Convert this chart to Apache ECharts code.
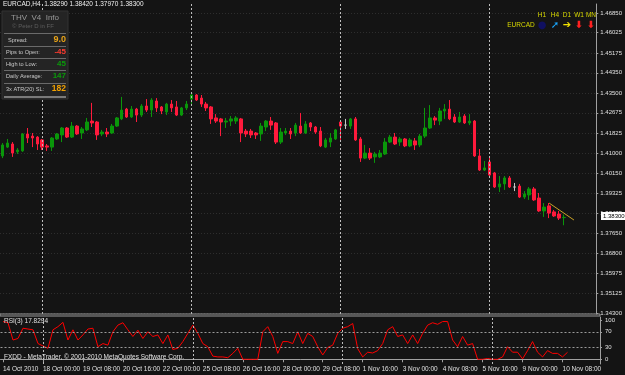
<!DOCTYPE html>
<html><head><meta charset="utf-8">
<script src="https://cdn.jsdelivr.net/npm/echarts@6/dist/echarts.min.js"></script>
<style>html,body{margin:0;padding:0;background:#141414;}#c{width:625px;height:375px;}</style>
</head><body><div id="c"></div>
<script>
// ---- data (EURCAD, H4) ----
const xTickLabels = ['14 Oct 2010','18 Oct 00:00','19 Oct 08:00','20 Oct 16:00','22 Oct 00:00','25 Oct 08:00','26 Oct 16:00','28 Oct 00:00','29 Oct 08:00','1 Nov 16:00','3 Nov 00:00','4 Nov 08:00','5 Nov 16:00','9 Nov 00:00','10 Nov 08:00'];
const yTickValues = [1.46850,1.46025,1.45175,1.44350,1.43500,1.42675,1.41825,1.41000,1.40150,1.39325,1.38475,1.37650,1.36800,1.35975,1.35125,1.34300];
const rsiTickValues = [0,30,70,100];
const rsiLevels = [30,70];
const weekStartBars = [8,38,68,98];
const opens = [1.4087,1.4124,1.4137,1.4104,1.4108,1.4179,1.4170,1.4166,1.4154,1.4129,1.4124,1.4158,1.4175,1.4204,1.4166,1.4212,1.4183,1.4196,1.4233,1.4229,1.4179,1.4187,1.4183,1.4212,1.4242,1.4283,1.4250,1.4283,1.4258,1.4296,1.4279,1.4317,1.4292,1.4271,1.4304,1.4292,1.4258,1.4288,1.4325,1.4342,1.4329,1.4304,1.4292,1.4246,1.4242,1.4229,1.4233,1.4233,1.4242,1.4191,1.4191,1.4183,1.4179,1.4208,1.4233,1.4225,1.4145,1.4183,1.4191,1.4183,1.4212,1.4183,1.4225,1.4208,1.4191,1.4124,1.4145,1.4158,1.4229,1.4216,1.4212,1.4242,1.4158,1.4078,1.4099,1.4083,1.4083,1.4095,1.4145,1.4166,1.4145,1.4158,1.4129,1.4150,1.4133,1.4170,1.4204,1.4246,1.4233,1.4275,1.4283,1.4250,1.4229,1.4254,1.4225,1.4233,1.4087,1.4028,1.4062,1.4016,1.3957,1.3970,1.3995,1.3957,1.3961,1.3915,1.3924,1.3949,1.3911,1.3857,1.3878,1.3853,1.3844,1.38290];
const closes = [1.4133,1.4141,1.4099,1.4112,1.4179,1.4162,1.4162,1.4137,1.4124,1.4124,1.4162,1.4179,1.4204,1.4166,1.4212,1.4179,1.4200,1.4229,1.4225,1.4175,1.4187,1.4179,1.4212,1.4246,1.4279,1.4250,1.4283,1.4258,1.4296,1.4279,1.4321,1.4288,1.4275,1.4304,1.4288,1.4258,1.4288,1.4304,1.4342,1.4321,1.4304,1.4288,1.4242,1.4233,1.4229,1.4233,1.4242,1.4246,1.4183,1.4179,1.4175,1.4175,1.4212,1.4233,1.4216,1.4145,1.4187,1.4191,1.4179,1.4216,1.4183,1.4221,1.4208,1.4187,1.4129,1.4154,1.4162,1.4196,1.4212,1.4216,1.4242,1.4154,1.4078,1.4099,1.4078,1.4095,1.4099,1.4145,1.4166,1.4137,1.4158,1.4129,1.4154,1.4133,1.4170,1.4204,1.4246,1.4237,1.4275,1.4283,1.4242,1.4229,1.4250,1.4225,1.4233,1.4087,1.4028,1.4037,1.4007,1.3957,1.3970,1.3995,1.3957,1.3957,1.3915,1.3928,1.3949,1.3903,1.3857,1.3873,1.3848,1.3836,1.3827,1.38300];
const lows = [1.4078,1.4120,1.4083,1.4095,1.4104,1.4141,1.4124,1.4112,1.4112,1.4108,1.4108,1.4154,1.4145,1.4162,1.4162,1.4175,1.4158,1.4191,1.4208,1.4154,1.4170,1.4166,1.4179,1.4208,1.4237,1.4246,1.4246,1.4229,1.4250,1.4271,1.4250,1.4271,1.4262,1.4258,1.4271,1.4254,1.4254,1.4279,1.4300,1.4317,1.4292,1.4275,1.4221,1.4225,1.4170,1.4204,1.4212,1.4221,1.4145,1.4166,1.4162,1.4158,1.4150,1.4191,1.4196,1.4137,1.4137,1.4175,1.4158,1.4170,1.4179,1.4179,1.4191,1.4179,1.4124,1.4120,1.4124,1.4154,1.4154,1.4200,1.4200,1.4150,1.4062,1.4074,1.4070,1.4058,1.4078,1.4091,1.4141,1.4133,1.4129,1.4124,1.4124,1.4112,1.4124,1.4162,1.4200,1.4216,1.4216,1.4242,1.4237,1.4225,1.4225,1.4221,1.4216,1.4083,1.4024,1.4024,1.4003,1.3953,1.3936,1.3945,1.3953,1.3940,1.3911,1.3907,1.3903,1.3899,1.3853,1.3832,1.3827,1.3832,1.3819,1.37970];
const highs = [1.4141,1.4158,1.4145,1.4120,1.4183,1.4204,1.4183,1.4170,1.4158,1.4137,1.4166,1.4183,1.4208,1.4208,1.4229,1.4216,1.4208,1.4246,1.4309,1.4233,1.4196,1.4204,1.4221,1.4250,1.4334,1.4288,1.4296,1.4288,1.4304,1.4325,1.4329,1.4329,1.4296,1.4309,1.4321,1.4317,1.4292,1.4317,1.4346,1.4346,1.4342,1.4313,1.4296,1.4262,1.4246,1.4246,1.4254,1.4254,1.4246,1.4200,1.4200,1.4187,1.4225,1.4237,1.4250,1.4229,1.4204,1.4204,1.4204,1.4225,1.4267,1.4233,1.4229,1.4212,1.4208,1.4162,1.4183,1.4200,1.4233,1.4242,1.4246,1.4250,1.4166,1.4133,1.4120,1.4104,1.4112,1.4162,1.4175,1.4183,1.4166,1.4162,1.4162,1.4162,1.4179,1.4288,1.4300,1.4254,1.4288,1.4304,1.4321,1.4262,1.4271,1.4262,1.4262,1.4237,1.4116,1.4066,1.4078,1.4020,1.4003,1.4003,1.4003,1.3974,1.3970,1.3940,1.3957,1.3957,1.3932,1.3890,1.3890,1.3861,1.3857,1.38420];
const rsiValues = [96,93,49,53,79,77,75,40,34,28,75,83,94,49,75,49,62,77,79,32,40,36,70,87,93,75,58,74,53,70,58,62,40,62,25,28,45,66,87,66,40,32,8,6,6,4,15,28,0,0,0,0,70,83,58,15,45,45,40,70,40,66,58,32,11,30,36,66,79,83,91,27,6,18,16,22,40,75,83,58,62,40,62,40,66,87,93,89,96,96,49,32,58,36,40,0,0,2,0,0,6,32,18,18,1,22,45,18,6,22,15,15,6,17.8294];
const trendLine = [[110,1.3890],[115,1.3819]];
const lastPrice = 1.38300;
const header = 'EURCAD,H4  1.38290 1.38420 1.37970 1.38300';

// ---- chart ----
const N = 120;
const cats = Array.from({length:N},(_,i)=>String(i));
const candleData = opens.map((o,i)=>[o,closes[i],lows[i],highs[i]]);
const FONT = 'Liberation Sans';
const showTick = (i)=> i%8===0 && i/8 < xTickLabels.length;

const chart = echarts.init(document.getElementById('c'), null, {renderer:'canvas'});
const info = [
  ['Spread:', '9.0', '#e8a317', 40, 8, 9],
  ['Pips to Open:', '-45', '#ff3b2f', 52, 6, 8],
  ['High to Low:', '45', '#0a9a0a', 64, 6, 8],
  ['Daily Average:', '147', '#0a9a0a', 76, 6, 8],
  ['3x ATR(20) SL:', '182', '#f0a000', 89, 6, 8.5]
];
const graphics = [
  {type:'text', left:3, top:1, style:{text:header, fill:'#f0f0f0', font:'6.5px '+FONT}},
  {type:'rect', shape:{x:2,y:11,width:66,height:88}, style:{fill:'#242424', stroke:'#333'}},
  {type:'text', x:35, y:18, style:{text:'THV  V4  Info', fill:'#9a9a9a', font:'8px '+FONT, align:'center', verticalAlign:'middle'}},
  {type:'text', x:33, y:26.5, style:{text:'© Peter D in FF', fill:'#5e5e5e', font:'6px '+FONT, align:'center', verticalAlign:'middle'}}
];
[33,46,58,70,83].forEach(y=>graphics.push({type:'rect', shape:{x:4,y:y,width:62,height:1}, style:{fill:'#6a6a6a'}}));
graphics.push({type:'rect', shape:{x:4,y:96,width:62,height:2}, style:{fill:'#7a7a7a'}});
info.forEach(r=>{
  graphics.push({type:'text', x:r[4], y:r[3], style:{text:r[0], fill:'#c8c8c8', font:'5.6px '+FONT, verticalAlign:'middle'}});
  graphics.push({type:'text', x:66, y:r[3], style:{text:r[1], fill:r[2], font:'bold '+r[5]+'px '+FONT, align:'right', verticalAlign:'middle'}});
});
// trend panel
graphics.push({type:'text', x:521, y:25, style:{text:'EURCAD', fill:'#d8d800', font:'6.5px '+FONT, align:'center', verticalAlign:'middle'}});
[['H1',542,'●','#101060'],['H4',555,'➚','#1aa8ff'],['D1',567,'➔','#f0e000'],['W1',579,'⬇','#ff2020'],['MN',591,'⬇','#ff2020']].forEach(a=>{
  graphics.push({type:'text', x:a[1], y:15, style:{text:a[0], fill:'#d8d800', font:'6.5px '+FONT, align:'center', verticalAlign:'middle'}});
  graphics.push({type:'text', x:a[1], y:25, style:{text:a[2], fill:a[3], font:'bold 10px DejaVu Sans', align:'center', verticalAlign:'middle'}});
});
graphics.push({type:'text', x:4, y:321, style:{text:'RSI(3) 17.8294', fill:'#e0e0e0', font:'6.5px '+FONT, verticalAlign:'middle'}});
graphics.push({type:'text', x:4, y:357, style:{text:'FXDD - MetaTrader, © 2001-2010 MetaQuotes Software Corp.', fill:'#e0e0e0', font:'6.5px '+FONT, verticalAlign:'middle'}});
graphics.push({type:'rect', shape:{x:0,y:314,width:600,height:2}, style:{fill:'none', stroke:'#9a9a9a', lineWidth:1}});
// last price tag on the price scale
graphics.push({type:'rect', shape:{x:601,y:212,width:24,height:8}, style:{fill:'#ffffff'}});
graphics.push({type:'text', x:603, y:216.5, style:{text:lastPrice.toFixed(5), fill:'#000000', font:'6px '+FONT, verticalAlign:'middle'}});
graphics.forEach((g,i)=>{ g.z = 100; g.zlevel = 0; });

const sepLine = {lineStyle:{color:'#bdbdbd', type:[2,2], width:1}};
const gridDot = {color:'#2e2e2e', type:[1,2], width:1};

chart.setOption({
  backgroundColor:'#141414',
  animation:false,
  textStyle:{fontFamily:FONT},
  grid:[
    {left:0, top:4, width:600, height:310},
    {left:0, top:317, width:600, height:47}
  ],
  xAxis:[
    {type:'category', data:cats, gridIndex:0, boundaryGap:true, axisLine:{show:false}, axisTick:{show:false}, axisLabel:{show:false}, splitLine:{show:false}},
    {type:'category', data:cats, gridIndex:1, boundaryGap:true,
     axisLine:{show:true, lineStyle:{color:'#a0a0a0'}},
     axisTick:{show:true, alignWithLabel:true, interval:(i)=>showTick(i), length:3, lineStyle:{color:'#a0a0a0'}},
     axisLabel:{show:true, interval:(i)=>showTick(i), formatter:(v,i)=>xTickLabels[i/8], align:'left', color:'#e0e0e0', fontSize:6.5, margin:2},
     splitLine:{show:false}}
  ],
  yAxis:[
    {type:'value', gridIndex:0, position:'right', min:1.34258, max:1.47227, scale:true,
     axisLine:{show:true, lineStyle:{color:'#a0a0a0'}},
     axisTick:{show:true, customValues:yTickValues, length:2, lineStyle:{color:'#a0a0a0'}},
     axisLabel:{customValues:yTickValues, formatter:v=>v.toFixed(5), color:'#e0e0e0', fontSize:6, margin:4},
     splitLine:{show:true, customValues:yTickValues, lineStyle:gridDot}},
    {type:'value', gridIndex:1, position:'right', min:-12, max:107.6,
     axisLine:{show:true, lineStyle:{color:'#a0a0a0'}},
     axisTick:{show:true, customValues:rsiTickValues, length:2, lineStyle:{color:'#a0a0a0'}},
     axisLabel:{customValues:rsiTickValues, color:'#e0e0e0', fontSize:6, margin:5},
     splitLine:{show:false}}
  ],
  series:[
    {type:'candlestick', xAxisIndex:0, yAxisIndex:0, data:candleData, barWidth:3, z:3,
     itemStyle:{color:'#0a960a', color0:'#ff1a3c', borderColor:'#0a960a', borderColor0:'#ff1a3c', borderColorDoji:'#c8c8c8', borderWidth:1},
     markLine:{silent:true, symbol:'none', animation:false,
       data:weekStartBars.map(b=>({xAxis:b, ...sepLine, label:{show:false}}))}},
    {type:'line', xAxisIndex:0, yAxisIndex:0, data:trendLine, symbol:'none', z:4, lineStyle:{color:'#c9a227', width:1}, silent:true},
    {type:'line', xAxisIndex:1, yAxisIndex:1, data:rsiValues, symbol:'none', lineStyle:{color:'#ff0000', width:1}, silent:true,
     markLine:{silent:true, symbol:'none', animation:false,
       data:[...weekStartBars.map(b=>({xAxis:b, ...sepLine, label:{show:false}})),
             ...rsiLevels.map(v=>({yAxis:v, lineStyle:{color:'#9a9a9a', type:[2,2], width:1}, label:{show:false}}))]}}
  ],
  graphic:graphics
});
</script></body></html>
